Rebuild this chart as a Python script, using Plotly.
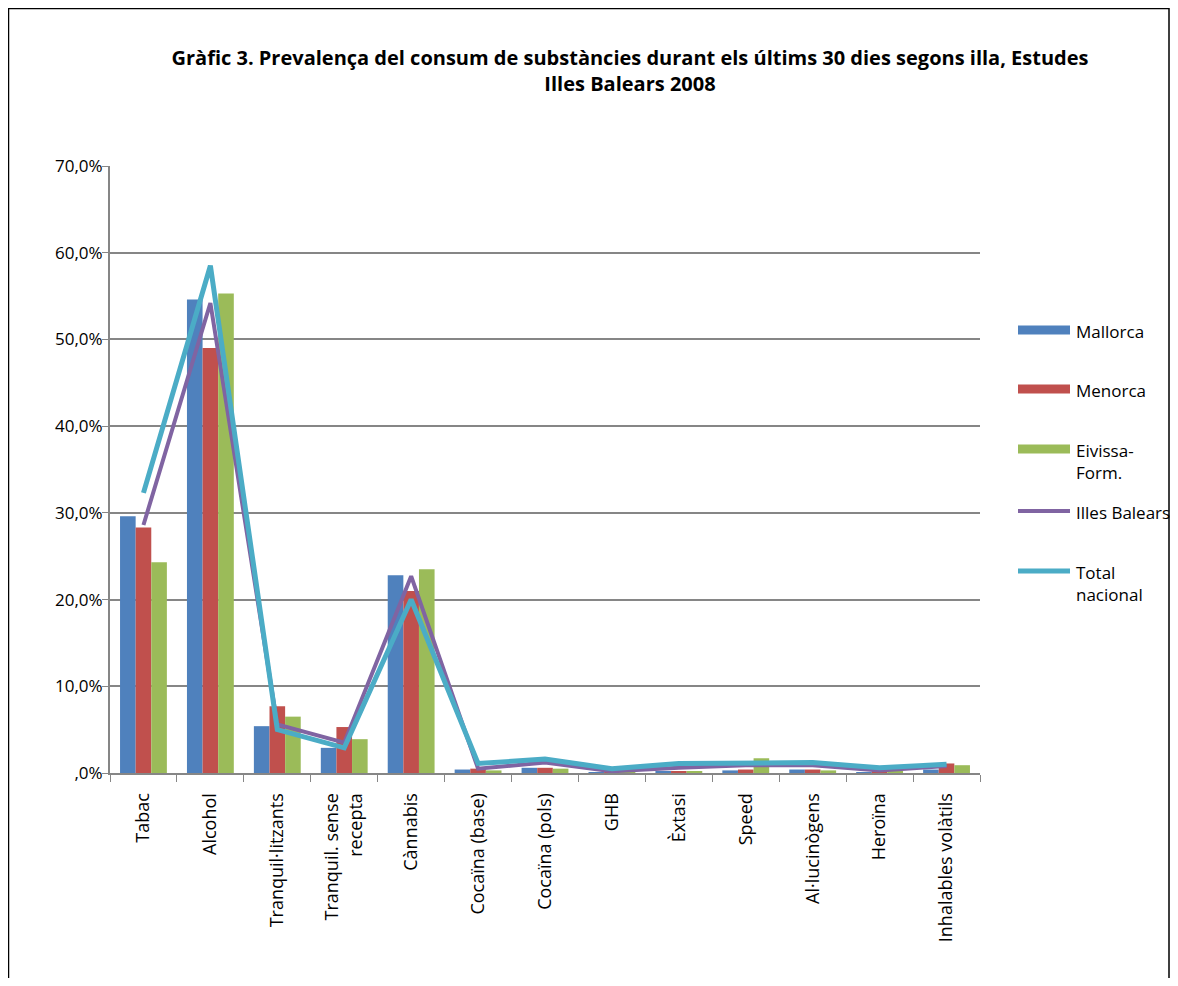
import plotly.graph_objects as go

# categories and values (% prevalence, last 30 days)
categories = ["Tabac", "Alcohol", "Tranquil·litzants", "Tranquil. sense<br>recepta", "Cànnabis",
              "Cocaïna (base)", "Cocaïna (pols)", "GHB", "Èxtasi", "Speed",
              "Al·lucinògens", "Heroïna", "Inhalables volàtils"]
mallorca = [29.6, 54.6, 5.4, 2.9, 22.8, 0.4, 0.6, 0.1, 0.2, 0.3, 0.4, 0.1, 0.4]
menorca = [28.3, 49.0, 7.7, 5.3, 21.0, 0.5, 0.6, 0.1, 0.2, 0.4, 0.4, 0.2, 1.1]
eivissa = [24.3, 55.3, 6.5, 3.9, 23.5, 0.3, 0.5, 0.1, 0.2, 1.7, 0.3, 0.2, 0.9]
illes_balears = [28.6, 54.2, 5.6, 3.5, 22.7, 0.5, 1.2, 0.2, 0.6, 0.9, 0.9, 0.3, 0.8]
total_nacional = [32.3, 58.5, 5.0, 2.9, 20.0, 1.1, 1.6, 0.5, 1.1, 1.2, 1.2, 0.6, 1.0]

series_names = ["Mallorca", "Menorca", "Eivissa-<br>Form.", "Illes Balears", "Total<br>nacional"]
series_colors = ["#4F81BD", "#C0504D", "#9BBB59", "#8064A2", "#4BACC6"]

y_ticks = [0, 10, 20, 30, 40, 50, 60, 70]
y_tick_labels = [",0%", "10,0%", "20,0%", "30,0%", "40,0%", "50,0%", "60,0%", "70,0%"]

font = "'Open Sans', sans-serif"

fig = go.Figure()
for vals, name, col in zip([mallorca, menorca, eivissa], series_names[:3], series_colors[:3]):
    fig.add_trace(go.Bar(x=categories, y=vals, name=name, marker_color=col,
                         marker_line_width=0))
fig.add_trace(go.Scatter(x=categories, y=illes_balears, name=series_names[3], mode="lines",
                         line=dict(color=series_colors[3], width=4)))
fig.add_trace(go.Scatter(x=categories, y=total_nacional, name=series_names[4], mode="lines",
                         line=dict(color=series_colors[4], width=5)))

# page has an 8px body margin: shrink the figure so no scrollbars appear,
# and shift layout pixels by 8
W, H = 1162, 970
ml, mt = 102, 158
pw, ph = 870, 607
mr, mb = W - ml - pw, H - mt - ph

def px(x):
    return (x - ml) / pw

def py(y):
    return (H - mb - y) / ph

# hand-made legend (wide swatches as in the original)
shapes = [dict(type="rect", xref="paper", yref="paper",
               x0=px(0.5), x1=px(W - 1), y0=py(H + 20), y1=py(0.5),
               line=dict(color="black", width=1.5), fillcolor="rgba(0,0,0,0)", layer="below")]
annotations = []
row_y = [322, 381, 441, 503, 563]
for i, (name, col, yy) in enumerate(zip(series_names, series_colors, row_y)):
    if i < 3:
        shapes.append(dict(type="rect", xref="paper", yref="paper",
                           x0=px(1010), x1=px(1062), y0=py(yy + 4.5), y1=py(yy - 4.5),
                           fillcolor=col, line=dict(width=0)))
    else:
        shapes.append(dict(type="line", xref="paper", yref="paper",
                           x0=px(1010), x1=px(1062), y0=py(yy), y1=py(yy),
                           line=dict(color=col, width=4 if i == 3 else 5)))
    annotations.append(dict(text=name, xref="paper", yref="paper", x=px(1066), y=py(yy - 12.5),
                            xanchor="left", yanchor="top", showarrow=False, align="left",
                            font=dict(size=17, family=font)))

fig.update_layout(
    width=W, height=H,
    margin=dict(l=ml, r=mr, t=mt, b=mb),
    paper_bgcolor="white", plot_bgcolor="white",
    font=dict(family=font, size=16, color="black"),
    title=dict(text="<b>Gràfic 3. Prevalença del consum de substàncies durant els últims 30 dies segons illa, Estudes<br>Illes Balears 2008</b>",
               x=622 / W, xanchor="center", y=1 - 57 / H, yanchor="top",
               font=dict(size=20, family=font)),
    barmode="group", bargap=0.3, bargroupgap=0,
    showlegend=False,
    shapes=shapes,
    annotations=annotations,
)
fig.update_xaxes(showline=True, linecolor="#868686", linewidth=2, ticks="outside",
                 tickson="boundaries", tickcolor="#868686", ticklen=7, tickangle=-90,
                 ticklabelstandoff=11, tickfont=dict(size=18))
fig.update_yaxes(range=[0, 70], tickvals=y_ticks, ticktext=y_tick_labels,
                 showgrid=True, gridcolor="#868686", gridwidth=1.5,
                 showline=True, linecolor="#868686", linewidth=2,
                 ticks="outside", tickcolor="#868686", ticklen=6, ticklabelstandoff=-4,
                 tickfont=dict(size=17))

fig.write_html("out.html")
